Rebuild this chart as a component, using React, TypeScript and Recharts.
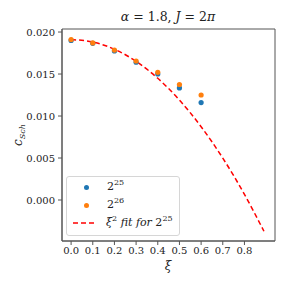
import React from 'react';
import { ComposedChart, Scatter, Line, XAxis, YAxis, ReferenceArea, Label } from 'recharts';

const xi = [0.0, 0.1, 0.2, 0.3, 0.4, 0.5, 0.6];
const c25 = [0.0190, 0.01865, 0.01775, 0.0164, 0.0150, 0.01335, 0.01160];
const c26 = [0.0191, 0.0187, 0.01785, 0.01655, 0.0152, 0.01375, 0.0125];

const fitXi = [0.0, 0.1, 0.2, 0.3, 0.4, 0.5, 0.6, 0.7, 0.8, 0.89];
const fitC = [0.0191, 0.01881, 0.01795, 0.01651, 0.01449, 0.0119, 0.00873, 0.00499, 0.00067, -0.00372];

const xTicks = [0, 0.1, 0.2, 0.3, 0.4, 0.5, 0.6, 0.7, 0.8];
const yTicks = [0, 0.005, 0.01, 0.015, 0.02];

const X_DOMAIN: [number, number] = [-0.042, 0.941];
const Y_DOMAIN: [number, number] = [-0.00488, 0.02036];

const pts25 = xi.map((x, i) => ({ x, y: c25[i] }));
const pts26 = xi.map((x, i) => ({ x, y: c26[i] }));
const fitData = fitXi.map((x, i) => ({ x, y: fitC[i] }));

const FONT = "'DejaVu Serif', serif";
const AXIS = '#555';

const dot = (color: string) => (props: any) => (
  <circle cx={props.cx} cy={props.cy} r={2.6} fill={color} />
);

const YLabel = (props: any) => {
  const vb = props.viewBox || {};
  const cx = 22;
  const cy = vb.y + vb.height / 2;
  return (
    <text transform={`translate(${cx},${cy}) rotate(-90)`} textAnchor="middle" style={{ fontFamily: FONT }} fontSize={12} fill="#222">
      <tspan fontStyle="italic">c</tspan>
      <tspan fontStyle="italic" fontSize={8} dy={3}>Sch</tspan>
    </text>
  );
};

const App: React.FC = () => {
  return (
    <div style={{ position: 'absolute', left: 0, top: 0, width: 288, height: 288, background: '#fff', fontFamily: FONT }}>
      <ComposedChart width={288} height={288} margin={{ top: 29, right: 13, bottom: 22, left: 12 }} style={{ fontFamily: FONT }}>
        <XAxis
          type="number"
          dataKey="x"
          domain={X_DOMAIN}
          ticks={xTicks}
          interval={0}
          allowDataOverflow
          tickFormatter={(v: number) => v.toFixed(1)}
          tick={{ fill: '#222', fontSize: 10, style: { fontFamily: FONT } }}
          tickSize={4}
          tickMargin={2}
          stroke={AXIS}
          height={25}
        />
        <YAxis
          type="number"
          dataKey="y"
          domain={Y_DOMAIN}
          ticks={yTicks}
          interval={0}
          allowDataOverflow
          tickFormatter={(v: number) => v.toFixed(3)}
          tick={{ fill: '#222', fontSize: 10, style: { fontFamily: FONT } }}
          tickSize={4}
          tickMargin={3}
          stroke={AXIS}
          width={50}
        >
          <Label content={<YLabel />} />
        </YAxis>
        <ReferenceArea x1={X_DOMAIN[0]} x2={X_DOMAIN[1]} y1={Y_DOMAIN[0]} y2={Y_DOMAIN[1]} fill="none" stroke={AXIS} strokeWidth={1} />
        <Line data={fitData} dataKey="y" type="monotone" stroke="#ff0000" strokeWidth={1.5} strokeDasharray="5 3" dot={false} isAnimationActive={false} />
        <Scatter data={pts25} dataKey="y" shape={dot('#1f77b4')} isAnimationActive={false} />
        <Scatter data={pts26} dataKey="y" shape={dot('#ff7f0e')} isAnimationActive={false} />
      </ComposedChart>

      {/* title */}
      <div style={{ position: 'absolute', left: 68, width: 200, top: 9, textAlign: 'center', fontSize: 12.5, color: '#222' }}>
        <i>α</i> = 1.8, <i>J</i> = 2<i>π</i>
      </div>

      {/* x label */}
      <div style={{ position: 'absolute', left: 148, width: 40, top: 259, textAlign: 'center', fontSize: 12, fontStyle: 'italic', color: '#222' }}>
        ξ
      </div>

      {/* legend */}
      <div style={{ position: 'absolute', left: 66, top: 176, width: 112, height: 58, border: '1px solid #d6d6d6', borderRadius: 3, background: 'rgba(255,255,255,0.85)', fontSize: 11, color: '#222' }}>
        <div style={{ position: 'absolute', left: 17, top: 8, width: 5, height: 5, borderRadius: 3, background: '#1f77b4' }} />
        <div style={{ position: 'absolute', left: 40, top: 1 }}>2<sup style={{ fontSize: 8 }}>25</sup></div>
        <div style={{ position: 'absolute', left: 17, top: 26, width: 5, height: 5, borderRadius: 3, background: '#ff7f0e' }} />
        <div style={{ position: 'absolute', left: 40, top: 19 }}>2<sup style={{ fontSize: 8 }}>26</sup></div>
        <svg style={{ position: 'absolute', left: 6, top: 44 }} width={24} height={4}>
          <line x1={0} y1={2} x2={24} y2={2} stroke="#ff0000" strokeWidth={1.5} strokeDasharray="5 3" />
        </svg>
        <div style={{ position: 'absolute', left: 39, top: 37, whiteSpace: 'nowrap' }}>
          <i>ξ</i><sup style={{ fontSize: 8 }}>2</sup> <i>fit for</i> 2<sup style={{ fontSize: 8 }}>25</sup>
        </div>
      </div>
    </div>
  );
};

export default App;
